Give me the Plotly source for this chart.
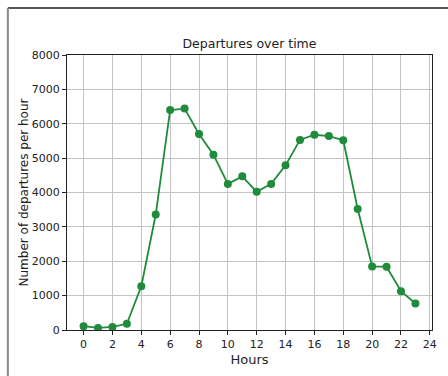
import plotly.graph_objects as go

# Hourly departure counts
hours = list(range(24))
departures = [110, 60, 90, 180, 1270, 3360, 6400, 6440, 5700, 5100,
              4250, 4470, 4020, 4250, 4790, 5530, 5680, 5640, 5520, 3520,
              1850, 1840, 1130, 770]

x_ticks = list(range(0, 25, 2))
y_ticks = list(range(0, 8001, 1000))

line_color = "#1f8b3b"
font_family = "DejaVu Sans"

fig = go.Figure()
fig.add_trace(go.Scatter(
    x=hours, y=departures, mode="lines+markers",
    line=dict(color=line_color, width=1.8),
    marker=dict(color=line_color, size=8),
    showlegend=False,
))

axis_common = dict(
    showline=True, linecolor="#222222", linewidth=1, mirror=True,
    ticks="outside", ticklen=4, tickcolor="#222222",
    showgrid=True, gridcolor="#c4c4c4", gridwidth=1,
    zeroline=False,
    tickfont=dict(family=font_family, size=11, color="#222222"),
)

fig.update_layout(
    width=448, height=376,
    margin=dict(l=67, r=11, t=55, b=46),
    paper_bgcolor="white", plot_bgcolor="white",
    font=dict(family=font_family, color="#222222"),
    title=dict(text="Departures over time", x=0.5, xref="paper",
               y=1, yref="paper", yanchor="bottom", pad=dict(b=7),
               font=dict(family=font_family, size=12.5, color="#222222")),
    xaxis=dict(range=[-1.15, 24.15], tickvals=x_ticks,
               title=dict(text="Hours", standoff=4,
                          font=dict(family=font_family, size=13)),
               **axis_common),
    yaxis=dict(range=[0, 8000], tickvals=y_ticks,
               title=dict(text="Number of departures per hour", standoff=0,
                          font=dict(family=font_family, size=12)),
               **axis_common),
    shapes=[
        dict(type="line", xref="paper", yref="paper",
             x0=-0.162, x1=1.05, y0=1.171, y1=1.171,
             line=dict(color="#555555", width=2)),
        dict(type="line", xref="paper", yref="paper",
             x0=-0.162, x1=-0.162, y0=1.171, y1=-0.2,
             line=dict(color="#888888", width=2)),
    ],
)

fig.write_html("out.html")
